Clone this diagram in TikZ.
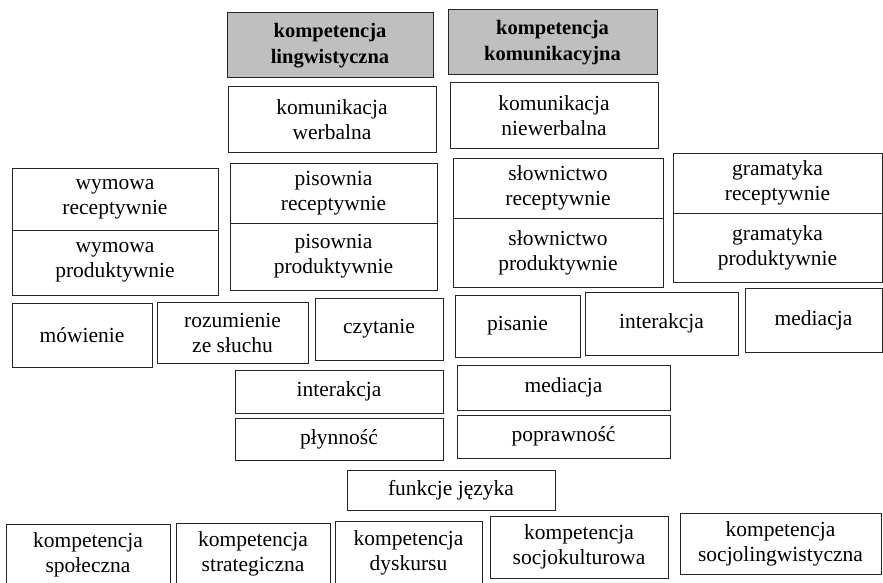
\documentclass[tikz,border=0pt]{standalone}
\usepackage{fontspec}
\setmainfont{Liberation Serif}
\begin{document}
\begin{tikzpicture}[x=1pt,y=-1pt,
  cbox/.style={draw=black!85, line width=1pt, fill=white, inner sep=0pt, align=center,
     font=\fontsize{21.5}{25}\selectfont},
  hdrbox/.style={cbox, fill=gray!50, font=\fontsize{20.5}{26}\selectfont\bfseries}]
\useasboundingbox (0,0) rectangle (883,583);
\newcommand\Bx[7][cbox]{\node[#1, minimum width=#5pt, minimum height=#6pt] (#2) at (#3,#4) {#7};}
% header
\Bx[hdrbox]{kl}{330}{45.5}{206}{65}{kompetencja\\lingwistyczna}
\Bx[hdrbox]{kk}{552.5}{42.5}{209}{65}{kompetencja\\komunikacyjna}
\Bx{kw}{332}{119.5}{208}{65}{komunikacja\\werbalna}
\Bx{kn}{554}{115.5}{208}{65}{komunikacja\\niewerbalna}
% split boxes
\Bx{wr}{115}{199}{206}{62}{wymowa\\receptywnie}
\Bx{wp}{115}{262.5}{206}{65}{wymowa\\produktywnie}
\Bx{pr}{333.5}{193}{207}{60}{pisownia\\receptywnie}
\Bx{pp}{333.5}{256.5}{207}{67}{pisownia\\produktywnie}
\Bx{sr}{558}{188}{210}{60}{słownictwo\\receptywnie}
\Bx{sp}{558}{252.5}{210}{69}{słownictwo\\produktywnie}
\Bx{gr}{777.5}{183}{209}{60}{gramatyka\\receptywnie}
\Bx{gp}{777.5}{247.5}{209}{69}{gramatyka\\produktywnie}
% skills
\Bx{mow}{82}{335}{140}{64}{mówienie}
\Bx{roz}{232.5}{332.5}{151}{61}{rozumienie\\ze słuchu}
\Bx{czy}{379}{329}{128}{62}{czytanie}
\Bx{pis}{517.5}{326}{125}{62}{pisanie}
\Bx{int}{661.5}{323.5}{153}{63}{interakcja}
\Bx{med}{813.5}{320}{137}{64}{mediacja}
% middle
\Bx{intb}{339}{391.5}{208}{43}{interakcja}
\Bx{medb}{563.5}{387.5}{213}{45}{mediacja}
\Bx{ply}{339}{439}{208}{42}{płynność}
\Bx{pop}{563.5}{436.5}{213}{43}{poprawność}
\Bx{fun}{451}{490}{208}{40}{funkcje języka}
% bottom
\Bx{spo}{88}{555}{164}{62}{kompetencja\\społeczna}
\Bx{str}{253}{554}{154}{62}{kompetencja\\strategiczna}
\Bx{dys}{408.5}{552.5}{147}{63}{kompetencja\\dyskursu}
\Bx{sku}{579}{547}{178}{62}{kompetencja\\socjokulturowa}
\Bx{sli}{780.5}{543.5}{201}{61}{kompetencja\\socjolingwistyczna}
\end{tikzpicture}
\end{document}
